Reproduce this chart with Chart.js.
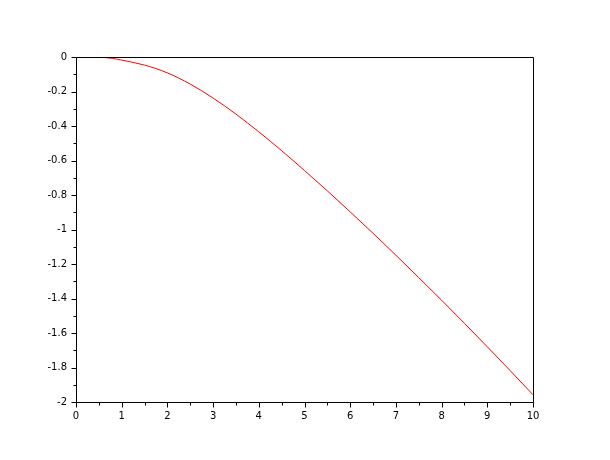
<!DOCTYPE html>
<html>
<head>
<meta charset="utf-8">
<script src="https://cdn.jsdelivr.net/npm/chart.js@4"></script>
<style>
html,body{margin:0;padding:0;background:#fff;}
#wrap{width:610px;height:460px;}
</style>
</head>
<body>
<div id="wrap"><canvas id="c" width="610" height="460"></canvas></div>
<script>
// Data
const xValues = [0.57, 0.8, 1, 1.5, 2, 2.5, 3, 3.5, 4, 4.5, 5, 5.5, 6, 6.5, 7, 7.5, 8, 8.5, 9, 9.5, 10];
const yValues = [-0.002, -0.008, -0.018, -0.047, -0.092, -0.157, -0.238, -0.331, -0.434, -0.543, -0.658, -0.776, -0.898, -1.022, -1.149, -1.279, -1.410, -1.544, -1.680, -1.818, -1.958];
const xTicks = [0, 1, 2, 3, 4, 5, 6, 7, 8, 9, 10];
const yTicks = [0, -0.2, -0.4, -0.6, -0.8, -1, -1.2, -1.4, -1.6, -1.8, -2];
const xMinorStep = 0.5;
const yMinorStep = 0.1;

const points = xValues.map((x, i) => ({x: x, y: yValues[i]}));

const frame = {
  id: 'frame',
  afterDraw(chart) {
    const ctx = chart.ctx, a = chart.chartArea;
    const xs = chart.scales.x, ys = chart.scales.y;
    ctx.save();
    ctx.strokeStyle = '#000';
    ctx.lineWidth = 1;
    const L = Math.round(a.left) + 0.5, R = Math.round(a.right) + 0.5;
    const T = Math.round(a.top) + 0.5, B = Math.round(a.bottom) + 0.5;
    ctx.beginPath();
    ctx.rect(L, T, R - L, B - T);
    // major ticks
    xTicks.forEach(v => {
      const px = Math.round(xs.getPixelForValue(v)) + 0.5;
      ctx.moveTo(px, B); ctx.lineTo(px, B + 5);
    });
    yTicks.forEach(v => {
      const py = Math.round(ys.getPixelForValue(v)) + 0.5;
      ctx.moveTo(L, py); ctx.lineTo(L - 5, py);
    });
    // minor ticks
    for (let v = xs.min + xMinorStep; v < xs.max; v += 2 * xMinorStep) {
      const px = Math.round(xs.getPixelForValue(v)) + 0.5;
      ctx.moveTo(px, B); ctx.lineTo(px, B + 3);
    }
    for (let v = ys.max - yMinorStep; v > ys.min; v -= 2 * yMinorStep) {
      const py = Math.round(ys.getPixelForValue(v)) + 0.5;
      ctx.moveTo(L, py); ctx.lineTo(L - 3, py);
    }
    ctx.stroke();
    ctx.restore();
  }
};

new Chart(document.getElementById('c'), {
  type: 'line',
  data: {
    datasets: [{
      data: points,
      borderColor: '#ff0000',
      borderWidth: 1,
      pointRadius: 0,
      fill: false,
      cubicInterpolationMode: 'monotone'
    }]
  },
  options: {
    responsive: false,
    devicePixelRatio: 1,
    animation: false,
    layout: {padding: {top: 57, right: 77, left: 0, bottom: 0}},
    plugins: {legend: {display: false}, tooltip: {enabled: false}},
    scales: {
      x: {
        type: 'linear', min: 0, max: 10,
        afterFit(s) { s.height = 58; },
        afterBuildTicks(s) { s.ticks = xTicks.map(v => ({value: v})); },
        grid: {display: true, drawOnChartArea: false, drawTicks: true, tickLength: 5, color: 'rgba(0,0,0,0)'},
        border: {display: false},
        ticks: {
          color: '#000', padding: 3, maxRotation: 0, autoSkip: false,
          font: {family: 'DejaVu Sans', size: 10},
          callback: v => String(v)
        }
      },
      y: {
        type: 'linear', min: -2, max: 0,
        afterFit(s) { s.width = 76; },
        afterBuildTicks(s) { s.ticks = yTicks.map(v => ({value: v})); },
        grid: {display: true, drawOnChartArea: false, drawTicks: true, tickLength: 5, color: 'rgba(0,0,0,0)'},
        border: {display: false},
        ticks: {
          color: '#000', padding: 4, autoSkip: false,
          font: {family: 'DejaVu Sans', size: 10},
          callback: v => String(Math.round(v * 10) / 10)
        }
      }
    }
  },
  plugins: [frame]
});
</script>
</body>
</html>
